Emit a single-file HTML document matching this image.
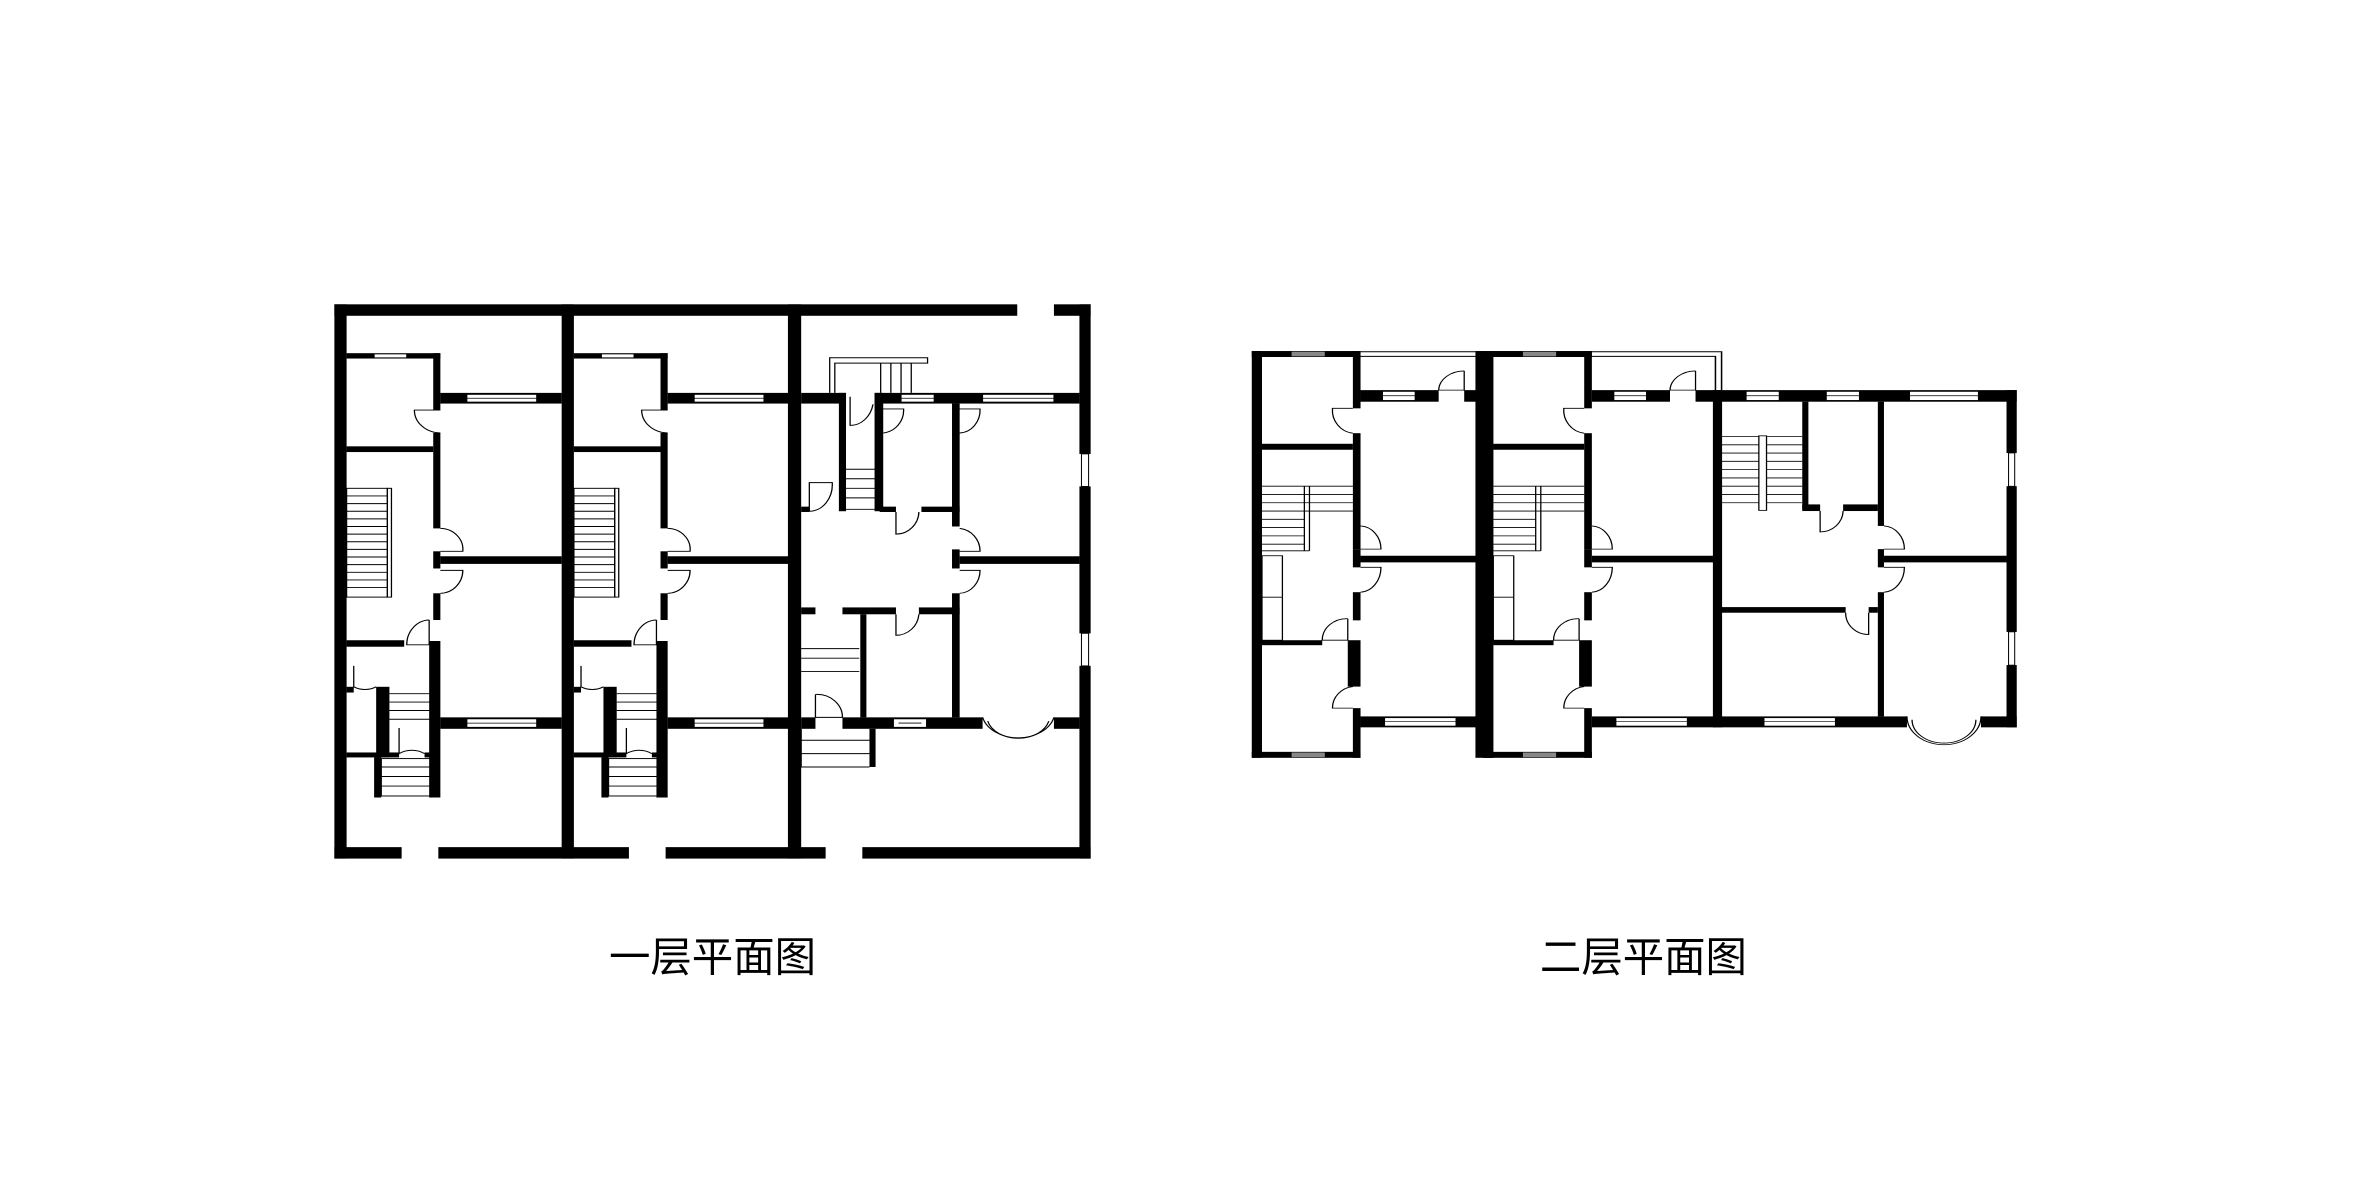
<!DOCTYPE html>
<html><head><meta charset="utf-8"><style>
html,body{margin:0;padding:0;background:#fff;width:2362px;height:1181px;overflow:hidden}
svg{display:block}
</style></head><body>
<svg width="2362" height="1181" viewBox="0 0 1568 784" preserveAspectRatio="none" xmlns="http://www.w3.org/2000/svg">
<defs>
<g id="u1">
  <rect x="52" y="166" width="184" height="14" fill="#000"/>
  <rect x="106" y="168" width="64" height="10" fill="#fff" stroke="#000" stroke-width="2"/>
  <rect x="222" y="166" width="14" height="149" fill="#000"/>
  <rect x="222" y="375" width="14" height="250" fill="#000"/>
  <rect x="222" y="685" width="14" height="45" fill="#000"/>
  <rect x="222" y="795" width="14" height="70" fill="#000"/>
  <rect x="214" y="920" width="22" height="410" fill="#000"/>
  <rect x="236" y="270" width="238" height="28" fill="#000"/>
  <rect x="288" y="274" width="137" height="20" fill="#fff" stroke="#000" stroke-width="2"/>
  <line x1="288" y1="284" x2="425" y2="284" stroke="#000" stroke-width="2"/>
  <rect x="52" y="410" width="170" height="15" fill="#000"/>
  <rect x="236" y="698" width="238" height="20" fill="#000"/>
  <rect x="52" y="918" width="113" height="17" fill="#000"/>
  <rect x="236" y="1120" width="238" height="30" fill="#000"/>
  <rect x="288" y="1124" width="137" height="22" fill="#fff" stroke="#000" stroke-width="2"/>
  <line x1="288" y1="1135" x2="425" y2="1135" stroke="#000" stroke-width="2"/>
  <g stroke="#000" stroke-width="2.5" fill="none">
    <rect x="52" y="520" width="80" height="285"/>
    <rect x="132" y="520" width="8" height="285"/>
    <path d="M52 540H132M52 560H132M52 580H132M52 600H132M52 620H132M52 640H132M52 660H132M52 680H132M52 700H132M52 720H132M52 740H132M52 760H132M52 780H132"/>
    <path d="M136 1058H222M136 1080H222M136 1102H222M136 1125H222"/>
    <rect x="120" y="1228" width="102" height="98"/>
    <path d="M120 1250H222M120 1275H222M120 1300H222"/>
    <path d="M236 315H185A52 60 0 0 0 236 375"/>
    <path d="M236 625A45 55 0 0 1 280 685H236"/>
    <path d="M236 735H280A45 60 0 0 1 236 795"/>
    <path d="M214 865V930H170A45 65 0 0 1 214 865"/>
    <path d="M66 985V1040A45 55 0 0 0 110 1040"/>
    <path d="M155 1148V1215A50 65 0 0 1 205 1215"/>
  </g>
  <rect x="52" y="1040" width="14" height="15" fill="#000"/>
  <rect x="110" y="1040" width="26" height="185" fill="#000"/>
  <rect x="52" y="1212" width="103" height="13" fill="#000"/>
  <rect x="205" y="1212" width="17" height="13" fill="#000"/>
  <rect x="106" y="1225" width="14" height="105" fill="#000"/>
</g>
<g id="u2">
  <rect x="200" y="62" width="15" height="173" fill="#000"/>
  <rect x="200" y="310" width="15" height="350" fill="#000"/>
  <rect x="200" y="660" width="15" height="55" fill="#000"/>
  <rect x="200" y="790" width="15" height="85" fill="#000"/>
  <rect x="190" y="935" width="25" height="140" fill="#000"/>
  <rect x="200" y="1140" width="15" height="150" fill="#000"/>
  <rect x="2" y="62" width="213" height="18" fill="#000"/>
  <rect x="80" y="64" width="65" height="14" fill="#888"/>
  <rect x="2" y="1272" width="213" height="18" fill="#000"/>
  <rect x="80" y="1274" width="65" height="14" fill="#888"/>
  <rect x="215" y="180" width="153" height="35" fill="#000"/>
  <rect x="418" y="180" width="37" height="35" fill="#000"/>
  <rect x="258" y="184" width="64" height="27" fill="#fff" stroke="#000" stroke-width="2"/>
  <line x1="258" y1="197" x2="322" y2="197" stroke="#000" stroke-width="2"/>
  <rect x="22" y="342" width="178" height="18" fill="#000"/>
  <rect x="215" y="680" width="240" height="20" fill="#000"/>
  <rect x="22" y="935" width="118" height="15" fill="#000"/>
  <rect x="215" y="1165" width="240" height="33" fill="#000"/>
  <rect x="262" y="1169" width="140" height="25" fill="#fff" stroke="#000" stroke-width="2"/>
  <line x1="262" y1="1181" x2="402" y2="1181" stroke="#000" stroke-width="2"/>
  <g stroke="#000" stroke-width="2.5" fill="none">
    <path d="M22 470H200M22 495H200M22 520H200M22 545H200M22 570H105M22 595H105M22 620H105M22 645H105M22 665H115"/>
    <path d="M105 470V665M115 470V665"/>
    <rect x="22" y="680" width="40" height="255"/>
    <line x1="22" y1="805" x2="62" y2="805"/>
    <path d="M200 235H160A45 70 0 0 0 200 310"/>
    <path d="M215 590A42 70 0 0 1 255 660H215"/>
    <path d="M215 715H255A42 75 0 0 1 215 790"/>
    <path d="M190 870V935H140A48 65 0 0 1 190 870"/>
    <path d="M200 1075A45 65 0 0 0 160 1140H200"/>
    <path d="M418 122V180H368A50 60 0 0 1 418 122"/>
  </g>
  <rect x="2" y="62" width="20" height="1228" fill="#000"/>
</g>
</defs>

<g transform="translate(212.5,192.4) scale(0.3383,0.2534)">
  <rect x="28" y="38" width="1340" height="30" fill="#000"/>
  <rect x="1440" y="38" width="72" height="30" fill="#000"/>
  <rect x="28" y="38" width="24" height="1452" fill="#000"/>
  <rect x="1490" y="38" width="22" height="392" fill="#000"/>
  <rect x="1490" y="515" width="22" height="385" fill="#000"/>
  <rect x="1490" y="985" width="22" height="505" fill="#000"/>
  <rect x="1494" y="430" width="14" height="85" fill="#fff" stroke="#000" stroke-width="2"/>
  <rect x="1494" y="900" width="14" height="85" fill="#fff" stroke="#000" stroke-width="2"/>
  <rect x="28" y="1460" width="132" height="30" fill="#000"/>
  <rect x="232" y="1460" width="374" height="30" fill="#000"/>
  <rect x="678" y="1460" width="314" height="30" fill="#000"/>
  <rect x="1064" y="1460" width="448" height="30" fill="#000"/>
  <rect x="474" y="38" width="24" height="1452" fill="#000"/>
  <rect x="918" y="38" width="26" height="1452" fill="#000"/>
  <use href="#u1"/>
  <use href="#u1" x="446"/>
  <rect x="944" y="270" width="88" height="28" fill="#000"/>
  <rect x="1088" y="270" width="402" height="28" fill="#000"/>
  <rect x="1140" y="274" width="65" height="20" fill="#fff" stroke="#000" stroke-width="2"/>
  <rect x="1300" y="274" width="140" height="20" fill="#fff" stroke="#000" stroke-width="2"/>
  <path d="M1140 284H1205M1300 284H1440" stroke="#000" stroke-width="2"/>
  <rect x="1018" y="270" width="14" height="310" fill="#000"/>
  <rect x="1088" y="270" width="17" height="310" fill="#000"/>
  <rect x="1098" y="568" width="32" height="14" fill="#000"/>
  <rect x="1180" y="568" width="75" height="14" fill="#000"/>
  <rect x="944" y="568" width="16" height="14" fill="#000"/>
  <rect x="1240" y="298" width="15" height="80" fill="#000"/>
  <rect x="1240" y="375" width="15" height="245" fill="#000"/>
  <rect x="1240" y="680" width="15" height="50" fill="#000"/>
  <rect x="1240" y="795" width="15" height="325" fill="#000"/>
  <rect x="1255" y="698" width="235" height="20" fill="#000"/>
  <rect x="944" y="832" width="28" height="18" fill="#000"/>
  <rect x="1025" y="832" width="105" height="18" fill="#000"/>
  <rect x="1175" y="832" width="80" height="18" fill="#000"/>
  <rect x="1060" y="850" width="12" height="270" fill="#000"/>
  <rect x="944" y="1120" width="28" height="30" fill="#000"/>
  <rect x="1025" y="1120" width="275" height="30" fill="#000"/>
  <rect x="1440" y="1120" width="50" height="30" fill="#000"/>
  <rect x="1125" y="1124" width="65" height="22" fill="#fff" stroke="#000" stroke-width="2"/>
  <rect x="1078" y="1150" width="12" height="100" fill="#000"/>
  <g stroke="#000" stroke-width="2.5" fill="none">
    <path d="M1000 270V178H1192V192H1010V270"/>
    <path d="M1100 192V270M1120 192V270M1140 192V270M1160 192V270"/>
    <path d="M1032 470H1098M1032 495H1098M1032 520H1098M1032 545H1098M1032 575H1098"/>
    <path d="M944 940H1058M944 965H1058M944 1000H1058"/>
    <path d="M944 1150V1250H1078M944 1180H1078M944 1215H1078"/>
    <path d="M1135 1135H1180"/>
    <path d="M1300 1120A72 70 0 0 0 1440 1120"/>
    <path d="M1310 1130A62 60 0 0 0 1430 1130"/>
    <path d="M1040 280V355A45 70 0 0 0 1085 300"/>
    <path d="M1100 312H1145A45 60 0 0 1 1105 375"/>
    <path d="M1250 312H1295A42 60 0 0 1 1255 375"/>
    <path d="M960 505V580A45 70 0 0 0 1005 505Z"/>
    <path d="M1130 582V640A45 60 0 0 0 1175 582"/>
    <path d="M1255 625A45 60 0 0 1 1295 685H1255"/>
    <path d="M1255 735H1295A42 60 0 0 1 1255 795"/>
    <path d="M1130 850V905A45 60 0 0 0 1175 850"/>
    <path d="M972 1060V1120H1025A50 60 0 0 0 972 1060"/>
  </g>
</g>

<g transform="translate(830.3,219.4) scale(0.339,0.2199)">
  <g stroke="#000" stroke-width="3" fill="none">
    <path d="M215 64H922V180M215 78H910V180"/>
  </g>
  <use href="#u2"/>
  <use href="#u2" x="453"/>
  <rect x="440" y="62" width="35" height="1228" fill="#000"/>
  <rect x="905" y="180" width="595" height="35" fill="#000"/>
  <rect x="970" y="184" width="65" height="27" fill="#fff" stroke="#000" stroke-width="2"/>
  <rect x="1127" y="184" width="65" height="27" fill="#fff" stroke="#000" stroke-width="2"/>
  <rect x="1290" y="184" width="135" height="27" fill="#fff" stroke="#000" stroke-width="2"/>
  <path d="M970 197H1035M1127 197H1192M1290 197H1425" stroke="#000" stroke-width="2"/>
  <rect x="905" y="180" width="18" height="1018" fill="#000"/>
  <rect x="1480" y="180" width="20" height="190" fill="#000"/>
  <rect x="1480" y="470" width="20" height="440" fill="#000"/>
  <rect x="1480" y="1010" width="20" height="188" fill="#000"/>
  <rect x="1484" y="370" width="12" height="100" fill="#fff" stroke="#000" stroke-width="2"/>
  <rect x="1484" y="910" width="12" height="100" fill="#fff" stroke="#000" stroke-width="2"/>
  <rect x="1080" y="215" width="12" height="325" fill="#000"/>
  <rect x="1080" y="525" width="35" height="20" fill="#000"/>
  <rect x="1160" y="525" width="68" height="20" fill="#000"/>
  <rect x="1228" y="215" width="12" height="375" fill="#000"/>
  <rect x="1228" y="660" width="12" height="55" fill="#000"/>
  <rect x="1228" y="790" width="12" height="375" fill="#000"/>
  <rect x="1240" y="680" width="240" height="20" fill="#000"/>
  <rect x="922" y="835" width="243" height="17" fill="#000"/>
  <rect x="1210" y="835" width="18" height="17" fill="#000"/>
  <rect x="905" y="1165" width="380" height="33" fill="#000"/>
  <rect x="1430" y="1165" width="70" height="33" fill="#000"/>
  <rect x="1005" y="1169" width="140" height="25" fill="#fff" stroke="#000" stroke-width="2"/>
  <line x1="1005" y1="1181" x2="1145" y2="1181" stroke="#000" stroke-width="2"/>
  <g stroke="#000" stroke-width="2.5" fill="none">
    <path d="M922 320H1080M922 345H1080M922 370H1080M922 395H1080M922 420H1080M922 445H1080M922 470H1080M922 495H1080M922 520H1080"/>
    <rect x="995" y="318" width="15" height="225" fill="#fff"/>
    <path d="M1115 545V608A45 65 0 0 0 1160 545"/>
    <path d="M1240 590A42 70 0 0 1 1280 660H1240"/>
    <path d="M1240 715H1280A42 75 0 0 1 1240 790"/>
    <path d="M1165 852A45 65 0 0 0 1210 918V852"/>
    <path d="M1285 1165A72 85 0 0 0 1430 1165"/>
    <path d="M1295 1175A62 70 0 0 0 1420 1175"/>
  </g>
</g>

<g font-family="'Liberation Sans','Noto Sans CJK SC',sans-serif" font-size="27.5" fill="#000" text-anchor="middle">
  <text x="473" y="645">一层平面图</text>
  <text x="1091" y="645">二层平面图</text>
</g>
</svg>
</body></html>
